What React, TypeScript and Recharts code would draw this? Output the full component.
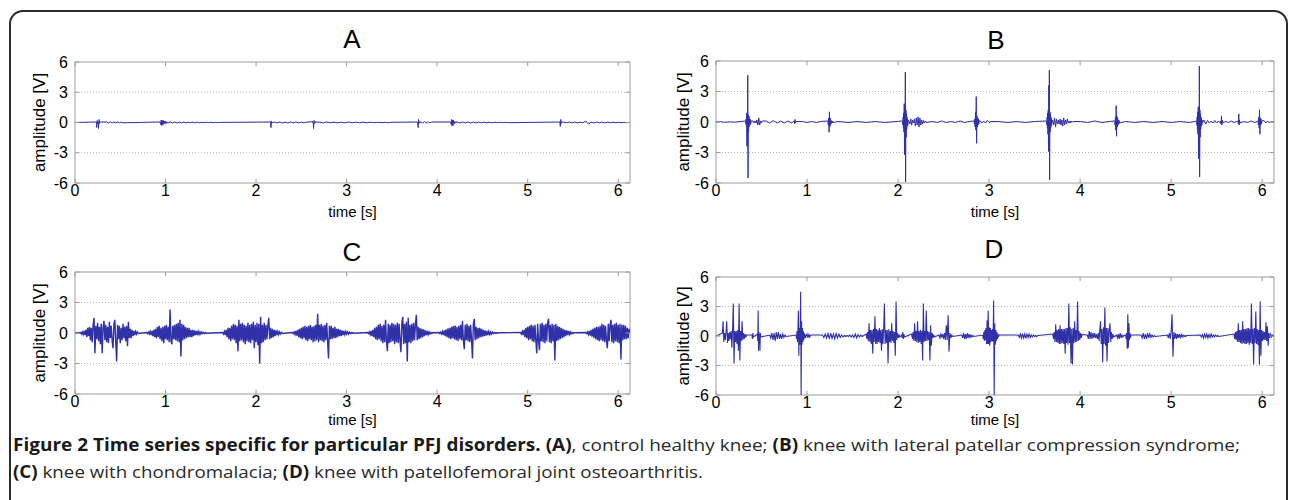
import React from 'react';
import { LineChart, Line, XAxis, YAxis, ReferenceLine, ReferenceArea } from 'recharts';

type Seg = { t0: number; dt: number; v: number[] };

const xTicks = [0, 1, 2, 3, 4, 5, 6];
const yTicks = [-6, -3, 0, 3, 6];
const xMax = 6.13;
const panelTitles = ['A', 'B', 'C', 'D'];

// Panel A: control healthy knee
const segsA: Seg[] = [
  { t0: 0.235, dt: 0.005, v: [0.05, -0.5, 0.2, -0.1, 0.05, -0.6, 0.3, -0.1, 0.05] },
  { t0: 0.35, dt: 0.02, v: [0.05, -0.05, 0.08, -0.05, 0.06, -0.04, 0.05, -0.03, 0.03, -0.03] },
  { t0: 0.94, dt: 0.006, v: [0.05, -0.2, 0.25, -0.3, 0.2, -0.25, 0.2, -0.15, 0.15, -0.1, 0.1, -0.1, 0.08, -0.05] },
  { t0: 1.05, dt: 0.025, v: [0.06, -0.05, 0.05, -0.06, 0.04, -0.05, 0.05, -0.04, 0.03, -0.03, 0.04, -0.03, 0.03, -0.03, 0.02, -0.02, 0.03, -0.02, 0.02, -0.02, 0.02, -0.02, 0.01] },
  { t0: 2.16, dt: 0.005, v: [0.05, -0.5, 0.15, -0.05] },
  { t0: 2.2, dt: 0.03, v: [0.05, -0.04, 0.05, -0.05, 0.04, -0.05, 0.06, -0.04, 0.05, -0.04, 0.03, -0.03, 0.03] },
  { t0: 2.63, dt: 0.005, v: [0.1, -0.6, 0.2, -0.1, 0.05] },
  { t0: 2.7, dt: 0.04, v: [0.04, -0.04, 0.05, -0.03, 0.04, -0.04, 0.03, -0.04, 0.05, -0.03, 0.03, -0.03, 0.04, -0.03, 0.03, -0.02, 0.02, -0.02, 0.02, -0.02, 0.02] },
  { t0: 3.785, dt: 0.005, v: [0.05, -0.5, 0.3, -0.1, 0.05] },
  { t0: 3.82, dt: 0.02, v: [0.05, -0.05, 0.1, -0.05, 0.08, -0.04, 0.05] },
  { t0: 4.15, dt: 0.005, v: [0.05, -0.2, 0.3, -0.35, 0.25, -0.3, 0.2, -0.15, 0.1, -0.1, 0.05] },
  { t0: 4.22, dt: 0.03, v: [0.06, -0.05, 0.05, -0.04, 0.05, -0.05, 0.04, -0.04, 0.05, -0.03, 0.04, -0.03, 0.03, -0.03, 0.03, -0.02, 0.02, -0.02, 0.02, -0.02] },
  { t0: 5.355, dt: 0.005, v: [0.05, -0.4, 0.3, -0.1, 0.05] },
  { t0: 5.4, dt: 0.03, v: [0.04, -0.04, 0.05, -0.03, 0.04, -0.04, 0.03, -0.03, 0.15, -0.15, 0.04, -0.04, 0.05, -0.04, 0.04, -0.03, 0.03, -0.03, 0.03, -0.02, 0.02, -0.02, 0.02, -0.02] },
];

// Panel B: lateral patellar compression syndrome
const segsB: Seg[] = [
  { t0: 0.05, dt: 0.05, v: [0.03, -0.03, 0.02, -0.02] },
  { t0: 0.325, dt: 0.003, v: [0.1, -0.2, 0.3, -0.4, 0.9, -2.4, 0.8, -2.2, 4.6, -5.5, 0.7, -1.0, 0.6, -0.5, 0.4, -0.3, 0.3, -0.25, 0.2, -0.15, 0.1] },
  { t0: 0.41, dt: 0.01, v: [0.1, -0.1, 0.1, -0.1, 0.2, -0.3, 0.4, -0.3, 0.1, -0.1, 0.1] },
  { t0: 0.55, dt: 0.04, v: [0.1, -0.1, 0.15, -0.1, 0.1, -0.1, 0.1, -0.1] },
  { t0: 0.86, dt: 0.004, v: [0.1, -0.2, 0.25, -0.1, 0.05] },
  { t0: 0.95, dt: 0.05, v: [0.05, -0.05, 0.05, -0.05, 0.05] },
  { t0: 1.23, dt: 0.004, v: [0.1, -0.3, 0.4, -1.0, 1.0, -0.5, 0.4, -0.3, 0.2, -0.15, 0.1, -0.1, 0.1, -0.05] },
  { t0: 1.35, dt: 0.1, v: [0.05, -0.05, 0.05, -0.05, 0.05, -0.05] },
  { t0: 2.05, dt: 0.003, v: [0.1, -0.3, 0.5, -0.6, 0.9, -1.0, 1.8, -3.2, 1.5, -2.8, 4.9, -5.9, 1.2, -1.5, 0.8, -0.7, 0.5, -0.4, 0.3, -0.3, 0.2] },
  { t0: 2.12, dt: 0.01, v: [0.1, -0.2, 0.3, -0.3, 0.2, -0.1, 0.3, -0.4, 0.4, -0.3, 0.5, -0.5, 0.4, -0.3, 0.2, -0.2, 0.15, -0.1, 0.1, -0.05] },
  { t0: 2.38, dt: 0.05, v: [0.05, -0.05, 0.1, -0.05, 0.05, -0.05, 0.1, -0.05, 0.05] },
  { t0: 2.835, dt: 0.004, v: [0.1, -0.2, 0.3, -0.5, 1.0, -0.8, 2.5, -2.1, 0.6, -0.5, 0.4, -0.3, 0.3, -0.2, 0.1] },
  { t0: 2.9, dt: 0.02, v: [0.15, -0.1, 0.1, -0.1, 0.15, -0.05, 0.05] },
  { t0: 3.1, dt: 0.1, v: [0.05, -0.05, 0.05, -0.05, 0.05] },
  { t0: 3.632, dt: 0.003, v: [0.1, -0.3, 0.5, -0.6, 0.9, -1.2, 1.2, -2.9, 3.6, -2.5, 5.1, -5.7, 1.0, -1.0, 0.8, -0.6, 0.5, -0.4, 0.3, -0.2, 0.1] },
  { t0: 3.7, dt: 0.01, v: [0.2, -0.3, 0.4, -0.5, 0.3, -0.2, 0.2, -0.2, 0.3, -0.3, 0.2, -0.4, 0.4, -0.3, 0.2, -0.2, 0.3, -0.1, 0.1, -0.1, 0.1, -0.05, 0.05] },
  { t0: 4.0, dt: 0.08, v: [0.05, -0.05, 0.1, -0.05, 0.05] },
  { t0: 4.38, dt: 0.004, v: [0.1, -0.3, 0.5, -0.8, 1.6, -1.4, 0.6, -0.5, 0.4, -0.3, 0.2, -0.2, 0.15, -0.1] },
  { t0: 4.5, dt: 0.1, v: [0.05, -0.05, 0.05, -0.05, 0.05, -0.05, 0.05, -0.05] },
  { t0: 5.28, dt: 0.003, v: [0.1, -0.3, 0.5, -0.8, 1.0, -1.2, 1.5, -3.6, 1.3, -3.0, 5.5, -5.4, 1.2, -1.5, 0.8, -0.7, 0.5, -0.4, 0.3, -0.3, 0.2, -0.1] },
  { t0: 5.36, dt: 0.02, v: [0.2, -0.2, 0.15, -0.1, 0.1, -0.1, 0.15, -0.1, 0.1, -0.1] },
  { t0: 5.545, dt: 0.004, v: [0.1, -0.2, 0.6, -0.3, 0.2, -0.1] },
  { t0: 5.6, dt: 0.03, v: [0.05, -0.05, 0.1, -0.05, 0.05] },
  { t0: 5.735, dt: 0.004, v: [0.1, -0.2, 0.8, -0.3, 0.2, -0.1] },
  { t0: 5.8, dt: 0.04, v: [0.05, -0.05, 0.1, -0.05] },
  { t0: 5.955, dt: 0.004, v: [0.1, -0.3, 0.5, -0.6, 1.2, -1.2, 0.4, -0.3, 0.3, -0.2, 0.1] },
  { t0: 6.02, dt: 0.02, v: [0.15, -0.1, 0.1, -0.1, 0.05] },
];

// Panel C: chondromalacia (eight bursts sampled every 0.01 s)
const segsC: Seg[] = [
  { t0: 0.06, dt: 0.01, v: [0.05, -0.1, 0.1, -0.15, 0.2, -0.2, 0.3, -0.4, 0.5, -0.3, 0.6, -0.7, 0.5, -0.9, 0.8, 1.5, -2.0, 0.7, -0.6, 1.0, -0.8, 0.6, -1.1, 0.9, -2.0, 0.5, 1.2, -0.7, 0.8, -0.9, 0.6, -1.0, 1.1, -0.5, 0.7, -0.8, -1.5, 0.9, 1.3, -0.9, -2.8, 0.8, -0.6, 0.7, -1.0, 0.5, -0.7, 0.9, -0.5, 0.6, -0.8, 0.7, -1.3, 1.1, -0.5, 0.4, -0.5, 0.3, -0.3, 0.2, -0.2, 0.15, -0.1, 0.1, -0.05] },
  { t0: 0.79, dt: 0.01, v: [0.05, -0.05, 0.1, -0.1, 0.15, -0.2, 0.2, -0.3, 0.3, -0.4, 0.4, -0.5, 0.6, -0.4, 0.7, -0.6, 0.5, -0.8, 0.6, -1.0, 0.7, -0.6, 0.8, -0.7, 0.6, -0.9, 2.3, -0.8, -1.1, 0.7, -0.6, 0.8, -0.7, 0.9, -0.8, 1.0, -0.9, 1.3, -2.3, 0.9, -0.7, 0.8, -0.6, 0.6, -0.5, 0.5, -0.4, 0.5, -0.4, 0.3, -0.4, 0.3, -0.3, 0.25, -0.2, 0.2, -0.2, 0.15, -0.15, 0.1, -0.1, 0.1, -0.05, 0.05, -0.05, 0.03, -0.03] },
  { t0: 1.63, dt: 0.01, v: [0.05, -0.1, 0.15, -0.2, 0.3, -0.4, 0.5, -0.6, 0.5, -0.8, 0.7, -0.6, 0.9, -0.7, 0.8, -1.0, 0.7, -1.8, 1.3, -0.8, 0.9, -0.7, 1.0, -0.9, 0.8, -1.1, 0.7, -0.8, 1.0, -0.9, 0.8, -1.0, 0.9, -0.7, 1.1, -1.5, 0.8, -0.9, 1.0, -1.2, 0.9, -3.0, 1.6, -1.0, 0.8, -0.9, 1.0, -0.7, 0.8, -0.6, 0.7, 1.5, -0.6, 0.5, -0.5, 0.4, -0.4, 0.3, -0.3, 0.25, -0.2, 0.15, -0.15, 0.1, -0.1, 0.05, -0.05] },
  { t0: 2.4, dt: 0.01, v: [0.05, -0.05, 0.1, -0.15, 0.2, -0.25, 0.3, -0.4, 0.4, -0.5, 0.5, -0.6, 0.6, -0.5, 0.7, -0.7, 0.6, -0.8, 0.7, -0.6, 0.8, -0.7, 0.6, -0.9, 0.7, -0.8, 0.8, -0.7, 1.9, -0.9, 0.8, -0.7, 0.9, -0.8, 0.7, -0.9, 0.8, -0.7, 1.0, -0.8, -2.5, 0.7, -0.6, 0.7, -0.6, 0.5, -0.5, 0.6, -0.5, 0.4, -0.4, 0.4, -0.3, 0.3, -0.3, 0.25, -0.2, 0.2, -0.15, 0.15, -0.1, 0.1, -0.1, 0.08, -0.06, 0.05, -0.04, 0.03, -0.02] },
  { t0: 3.23, dt: 0.01, v: [0.05, -0.05, 0.1, -0.15, 0.2, -0.3, 0.3, -0.4, 0.5, -0.6, 0.6, -0.7, 0.8, -0.6, 0.9, -0.8, 0.7, -1.0, 0.8, -0.9, 1.3, -0.8, -1.8, 0.9, -1.0, 0.8, -0.9, 1.0, -0.8, 0.9, -1.1, 0.8, -0.9, 1.0, -1.0, 0.9, -0.8, -1.9, 1.0, 1.6, -1.1, 0.9, -1.0, 1.1, -2.8, 1.5, -0.9, 0.8, -1.0, 0.9, -0.8, 1.0, -0.7, 0.8, 1.8, -0.7, 0.6, -0.6, 0.5, -0.5, 0.4, -0.4, 0.35, -0.3, 0.25, -0.2, 0.2, -0.15, 0.1, -0.1, 0.05, -0.05, 0.03] },
  { t0: 4.02, dt: 0.01, v: [0.05, -0.05, 0.1, -0.1, 0.15, -0.2, 0.25, -0.3, 0.35, -0.4, 0.45, -0.5, 0.5, -0.6, 0.6, -0.5, 0.7, -0.6, 0.7, -0.7, 0.6, -0.8, 0.7, -0.6, 0.8, -0.7, 1.2, -0.8, -1.6, 0.8, -0.7, 0.9, -0.8, 0.7, -0.9, 0.8, -0.7, -2.5, 0.9, 1.4, -0.7, 0.6, -0.6, 0.5, -0.5, 0.5, -0.4, 0.4, -0.35, 0.3, -0.3, 0.25, -0.25, 0.2, -0.2, 0.15, -0.15, 0.1, -0.1, 0.08, -0.06, 0.05, -0.04, 0.03, -0.02, 0.02] },
  { t0: 4.92, dt: 0.01, v: [0.05, -0.1, 0.15, -0.2, 0.3, -0.4, 0.5, -0.5, 0.6, -0.7, 0.7, -0.6, 0.8, -0.8, 0.7, -0.9, 0.8, -0.7, -2.0, 0.9, -0.8, -1.7, 0.9, -0.8, 1.0, -0.9, 0.8, -1.0, 0.9, -0.8, 1.0, 1.4, -0.9, 0.8, -1.0, 0.9, -0.8, 0.8, -2.7, 0.9, -0.8, 0.7, -0.7, 0.6, -0.6, 0.5, -0.5, 0.4, -0.4, 0.3, -0.3, 0.25, -0.2, 0.2, -0.15, 0.1, -0.1, 0.05, -0.05, 0.03] },
  { t0: 5.64, dt: 0.01, v: [0.05, -0.05, 0.1, -0.15, 0.2, -0.25, 0.3, -0.35, 0.4, -0.45, 0.5, -0.6, 0.6, -0.7, 0.6, -0.8, 0.7, -0.7, 0.9, -0.8, 0.8, -0.9, 0.7, -0.8, -1.5, 0.9, -0.8, 0.8, 1.3, -0.9, 0.8, -1.0, 0.9, -0.8, 1.0, -0.9, 0.8, -1.0, 0.9, -2.6, 0.8, -0.7, 0.8, -0.6, 0.7, -0.6, 0.5, -0.5, 0.4] },
];

// Panel D: patellofemoral joint osteoarthritis
const segsD: Seg[] = [
  { t0: 0.07, dt: 0.008, v: [0.3, 1.5, -0.6, 0.3, -0.4, 0.4, 1.5, -0.7, 0.3, -0.5, 0.4, -0.3, 0.5, -1.2, 0.6, 3.3, -2.8, 0.5, -0.6, 0.5, -0.8, 0.6, -1.5, 3.3, -2.5, 0.5, -0.5, 1.5, -0.4, 0.3, -0.3, 0.2, -0.15, 0.1] },
  { t0: 0.395, dt: 0.005, v: [0.1, -0.3, 0.3, -0.1] },
  { t0: 0.455, dt: 0.004, v: [0.2, -0.5, 2.6, -1.5, 0.4, -0.3, 0.2, -1.5, 0.3, -0.1] },
  { t0: 0.59, dt: 0.012, v: [0.1, -0.2, 0.3, -0.4, 0.3, -0.5, 0.4, -0.3, 0.4, -0.3, 0.2, -0.3, 0.2, -0.15, 0.1, -0.05] },
  { t0: 0.88, dt: 0.005, v: [0.1, -0.3, 0.5, -0.6, 0.6, 2.6, -2.0, 0.8, -0.9, 1.0, 4.5, -6.0, 1.5, -0.9, 0.8, -0.6, 0.5, -0.4, 0.3, -0.2, 0.15, -0.1] },
  { t0: 1.0, dt: 0.01, v: [0.2, -0.2, 0.15, -0.1, 0.1] },
  { t0: 1.17, dt: 0.015, v: [0.1, -0.15, 0.2, -0.2, 0.25, -0.3, 0.3, -0.25, 0.2, -0.3, 0.25, -0.2, 0.2, -0.15, 0.1, -0.1, 0.05, -0.05, 0.05, -0.05, 0.1, -0.1, 0.1, -0.15, 0.2, -0.2, 0.15, -0.1, 0.1, -0.05] },
  { t0: 1.65, dt: 0.008, v: [0.2, -0.3, 0.4, -0.5, 1.3, -0.6, 0.6, -0.8, 0.6, -1.8, 0.7, -0.6, 2.0, -0.8, 0.7, -0.8, 0.6, -0.6, 0.8, -0.7, 0.6, -1.5, 0.7, -0.8, 0.7, 3.3, -0.8, 0.6, -0.7, 0.6, -2.8, 0.7, -0.6, 0.5, -0.7, 1.3, -0.5, 0.5, -0.7, 0.4, -2.0, 3.5, -0.4, 0.3, -0.2, 0.15, -0.1] },
  { t0: 2.04, dt: 0.006, v: [0.1, -0.2, 0.4, -0.3, 0.2, -0.1] },
  { t0: 2.15, dt: 0.008, v: [0.2, -0.3, 0.4, -0.5, 1.3, -0.5, 0.5, -0.6, 1.5, -0.7, 0.5, -0.6, 0.6, -0.8, 0.5, -2.5, 3.3, -0.6, 0.5, -0.5, 2.6, -0.5, 0.5, -0.4, 0.4, -2.5, 1.1, -1.0, 0.3, -0.2, 0.15, -0.1] },
  { t0: 2.45, dt: 0.01, v: [0.1, -0.2, 0.2, -0.1, 0.2, -0.3, 0.3, -0.4, 1.1, -0.4, 2.1, -1.6, 0.3, -0.2, 0.1, -0.05] },
  { t0: 2.7, dt: 0.01, v: [0.1, -0.2, 0.3, -0.3, 0.2, -0.3, 0.3, -0.2, 0.2, -0.15, 0.1, -0.1, 0.05, -0.05] },
  { t0: 2.93, dt: 0.006, v: [0.1, -0.3, 0.4, -0.5, 0.6, -0.4, 0.8, -0.8, 1.6, -0.8, 2.6, -0.8, 0.9, -1.0, 0.8, -0.6, 0.6, -0.5, 0.7, -0.6, 3.6, -6.0, 1.3, -0.9, 0.6, -0.5, 0.4, -0.3, 0.2, -0.1, 0.1] },
  { t0: 3.32, dt: 0.012, v: [0.1, -0.15, 0.2, -0.2, 0.25, -0.2, 0.2, -0.25, 0.2, -0.15, 0.2, -0.15, 0.1, -0.1, 0.1, -0.05, 0.05, -0.05, 0.05] },
  { t0: 3.7, dt: 0.008, v: [0.2, -0.3, 0.4, -0.6, 1.2, -0.6, 0.6, -0.7, 0.7, -0.8, 1.1, -0.8, 0.7, -0.7, 0.7, -0.8, 0.7, -1.8, 0.8, -0.7, 0.8, -0.9, 3.3, -0.7, 0.9, -2.8, 0.7, -2.9, 0.8, -0.7, 1.5, -0.6, 0.6, -0.6, 3.5, -0.5, 0.5, -0.4, 0.3, -0.2, 0.15] },
  { t0: 4.08, dt: 0.01, v: [0.1, -0.3, 0.5, -0.3, 0.4, -0.3, 0.3, -0.2, 0.3, -0.2, 0.2, -0.3] },
  { t0: 4.2, dt: 0.008, v: [0.3, -0.5, 0.6, 1.5, -0.8, 0.7, -2.7, 0.9, -0.8, 2.9, -1.0, 0.8, -2.6, 0.8, -0.7, 0.6, 1.3, -0.6, 0.4, -0.3, 0.2, -0.1] },
  { t0: 4.4, dt: 0.01, v: [0.1, -0.2, 0.2, -0.3, 0.3, -0.2, 0.1, -0.1, 0.05] },
  { t0: 4.5, dt: 0.006, v: [0.1, -0.3, 0.3, -1.3, 2.2, -1.2, 1.3, -0.4, 0.3, -0.2, 0.1] },
  { t0: 4.67, dt: 0.012, v: [0.1, -0.2, 0.3, -0.3, 0.2, -0.3, 0.3, -0.2, 0.2, -0.15, 0.1, -0.1, 0.05, -0.05] },
  { t0: 4.96, dt: 0.01, v: [0.1, -0.2, 0.3, -0.3, 0.5, 2.2, -2.1, 0.4, -0.3, 0.3, -0.3, 0.2, -0.2, 0.2, -0.15, 0.15, -0.1, 0.1, -0.05, 0.05, -0.05, 0.05] },
  { t0: 5.32, dt: 0.012, v: [0.1, -0.1, 0.15, -0.2, 0.2, -0.15, 0.2, -0.2, 0.15, -0.15, 0.2, -0.1, 0.1, -0.1, 0.1, -0.05, 0.05, -0.05] },
  { t0: 5.69, dt: 0.008, v: [0.2, -0.3, 0.4, -0.4, 0.5, -0.6, 1.3, -0.6, 0.6, -0.7, 0.6, -0.8, 1.5, -0.7, 0.7, -0.8, 0.7, -0.8, 0.8, -0.7, 0.8, -0.9, 0.7, -0.7, 3.3, -0.8, 0.7, -2.9, 0.8, -0.7, 2.5, -0.8, 0.7, -0.9, 0.6, -2.9, 3.5, -2.0, 0.6, -0.5, 0.5, -0.4, 0.4, -0.4, 1.4, -0.5, 1.0, -1.0] },
  { t0: 6.074, dt: 0.01, v: [0.3, -0.2, 0.2, -0.1, 0.1, 0] },
];

function build(segs: Seg[]) {
  const pts: { t: number; v: number }[] = [{ t: 0, v: 0 }];
  segs.forEach((s) => s.v.forEach((v, i) => pts.push({ t: Math.round((s.t0 + i * s.dt) * 10000) / 10000, v })));
  pts.push({ t: xMax, v: 0 });
  return pts;
}

const FONT = '"Liberation Sans", Arial, Helvetica, sans-serif';
const LINE = '#3030a8';
const BOX = '#9c9c9c';
const GRID = '#b5b5b5';

type PanelProps = {
  data: { t: number; v: number }[];
  left: number;
  top: number;
  height: number;
  marginTop: number;
  marginLeft: number;
  marginRight: number;
  yAxisWidth: number;
  xLabelOffset: number;
  lineWidth: number;
};

function Panel(p: PanelProps) {
  const tickLen = 0.42;
  const tickLenX = 0.05;
  return (
    <div style={{ position: 'absolute', left: p.left, top: p.top }}>
      <LineChart
        width={646}
        height={p.height}
        data={p.data}
        margin={{ top: p.marginTop, left: p.marginLeft, right: p.marginRight, bottom: 0 }}
      >
        <XAxis
          dataKey="t"
          type="number"
          domain={[0, xMax]}
          ticks={xTicks}
          interval={0}
          allowDataOverflow
          axisLine={false}
          tickLine={false}
          tickSize={1}
          tickMargin={1}
          height={42}
          tick={{ fontSize: 16, fill: '#000', fontFamily: FONT }}
          label={{ value: 'time [s]', position: 'insideBottom', offset: p.xLabelOffset, fill: '#000', fontSize: 15, fontFamily: FONT }}
        />
        <YAxis
          dataKey="v"
          type="number"
          domain={[-6, 6]}
          ticks={yTicks}
          interval={0}
          allowDataOverflow
          axisLine={false}
          tickLine={false}
          tickSize={4}
          tickMargin={3}
          width={p.yAxisWidth}
          tick={{ fontSize: 16, fill: '#000', fontFamily: FONT }}
          label={{ value: 'amplitude [V]', angle: -90, position: 'center', fill: '#000', fontSize: 17, fontFamily: FONT }}
        />
        <ReferenceLine y={3} stroke={GRID} strokeDasharray="1 2" />
        <ReferenceLine y={-3} stroke={GRID} strokeDasharray="1 2" />
        <ReferenceLine y={0} stroke={GRID} strokeDasharray="1 2" />
        <Line
          type="linear"
          dataKey="v"
          stroke={LINE}
          strokeWidth={p.lineWidth}
          dot={false}
          activeDot={false}
          isAnimationActive={false}
        />
        <ReferenceArea x1={0} x2={xMax} y1={-6} y2={6} fill="none" fillOpacity={0} stroke={BOX} strokeWidth={1} />
        {xTicks.map((t) => (
          <ReferenceLine key={'xb' + t} segment={[{ x: t, y: -6 }, { x: t, y: -6 + tickLen }]} stroke={BOX} />
        ))}
        {xTicks.map((t) => (
          <ReferenceLine key={'xt' + t} segment={[{ x: t, y: 6 }, { x: t, y: 6 - tickLen }]} stroke={BOX} />
        ))}
        {yTicks.map((v) => (
          <ReferenceLine key={'yl' + v} segment={[{ x: 0, y: v }, { x: tickLenX, y: v }]} stroke={BOX} />
        ))}
        {yTicks.map((v) => (
          <ReferenceLine key={'yr' + v} segment={[{ x: xMax - tickLenX, y: v }, { x: xMax, y: v }]} stroke={BOX} />
        ))}
      </LineChart>
    </div>
  );
}

const titleStyle = (cx: number, cy: number): React.CSSProperties => ({
  position: 'absolute',
  left: cx - 30,
  top: cy - 15,
  width: 60,
  height: 30,
  lineHeight: '30px',
  textAlign: 'center',
  fontFamily: FONT,
  fontSize: 26,
  color: '#000',
});

export default function App() {
  const dA = build(segsA);
  const dB = build(segsB);
  const dC = build(segsC);
  const dD = build(segsD);
  return (
    <div style={{ position: 'absolute', left: 0, top: 0, width: 1292, height: 500, background: '#fff', overflow: 'hidden' }}>
      <div
        style={{
          position: 'absolute',
          left: 9,
          top: 10,
          width: 1279,
          height: 600,
          border: '2px solid #2b2b2b',
          borderRadius: 14,
          boxSizing: 'border-box',
        }}
      />
      <div style={titleStyle(352, 39)}>{panelTitles[0]}</div>
      <div style={titleStyle(996, 40)}>{panelTitles[1]}</div>
      <div style={titleStyle(352, 252)}>{panelTitles[2]}</div>
      <div style={titleStyle(994, 249)}>{panelTitles[3]}</div>

      <Panel data={dA} left={0} top={0} height={225} marginTop={62} marginLeft={3} marginRight={16} yAxisWidth={72} xLabelOffset={8} lineWidth={1} />
      <Panel data={dB} left={646} top={0} height={225} marginTop={61} marginLeft={4} marginRight={18} yAxisWidth={66} xLabelOffset={8} lineWidth={1} />
      <Panel data={dC} left={0} top={210} height={226} marginTop={62} marginLeft={3} marginRight={16} yAxisWidth={72} xLabelOffset={11} lineWidth={1.4} />
      <Panel data={dD} left={646} top={215} height={222} marginTop={62} marginLeft={4} marginRight={18} yAxisWidth={66} xLabelOffset={12} lineWidth={1.1} />

      <svg width={1292} height={500} style={{ position: 'absolute', left: 0, top: 0, pointerEvents: 'none' }}>
        <text x={13} y={451} textLength={1227} lengthAdjust="spacingAndGlyphs" fontFamily='"Open Sans", sans-serif' fontSize={17} fill="#2a2a2a">
          <tspan fontWeight={700} fill="#1a1a1a">Figure 2 Time series specific for particular PFJ disorders. (A)</tspan>
          <tspan>, control healthy knee; </tspan>
          <tspan fontWeight={700} fill="#1a1a1a">(B)</tspan>
          <tspan> knee with lateral patellar compression syndrome;</tspan>
        </text>
        <text x={13} y={478} textLength={690} lengthAdjust="spacingAndGlyphs" fontFamily='"Open Sans", sans-serif' fontSize={17} fill="#2a2a2a">
          <tspan fontWeight={700} fill="#1a1a1a">(C)</tspan>
          <tspan> knee with chondromalacia; </tspan>
          <tspan fontWeight={700} fill="#1a1a1a">(D)</tspan>
          <tspan> knee with patellofemoral joint osteoarthritis.</tspan>
        </text>
      </svg>
    </div>
  );
}
